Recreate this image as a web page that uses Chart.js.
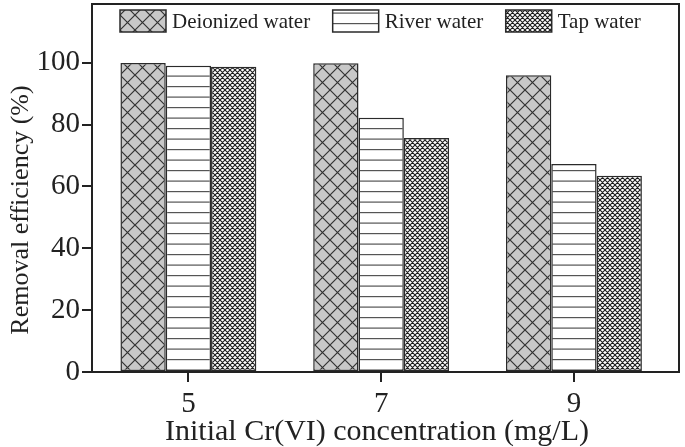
<!DOCTYPE html>
<html>
<head>
<meta charset="utf-8">
<script src="https://cdn.jsdelivr.net/npm/chart.js@4.4.1/dist/chart.umd.min.js"></script>
<style>
  html, body { margin: 0; padding: 0; background: #fff; }
</style>
</head>
<body>
<canvas id="chart" width="685" height="447"></canvas>
<script>
// data
const concentrations = [5, 7, 9];
const deionized = [99.9, 99.8, 96.0];
const river = [99.0, 82.2, 67.3];
const tap = [98.7, 75.7, 63.5];
const seriesNames = ['Deionized water', 'River water', 'Tap water'];
const yTicks = [0, 20, 40, 60, 80, 100];

const SERIF = "'Liberation Serif', 'Times New Roman', serif";
const INK = '#222';

const canvas = document.getElementById('chart');
const ctx = canvas.getContext('2d');

// fill patterns
function makePattern(w, h, bg, draw) {
    const c = document.createElement('canvas');
    c.width = w; c.height = h;
    const g = c.getContext('2d');
    g.fillStyle = bg;
    g.fillRect(0, 0, w, h);
    draw(g, w, h);
    return ctx.createPattern(c, 'repeat');
}

function crossHatch(color, lw) {
    return (g, s) => {
        g.strokeStyle = color;
        g.lineWidth = lw;
        g.beginPath();
        for (const o of [-s, 0, s]) {
            g.moveTo(o - 1, -1); g.lineTo(o + s + 1, s + 1);
            g.moveTo(o + s + 1, -1); g.lineTo(o - 1, s + 1);
        }
        g.stroke();
    };
}

const diamondFill = makePattern(15, 15, '#c8c8c8', crossHatch('#333', 1.2));
const fineFill = makePattern(5, 5, '#fff', crossHatch('#1c1c1c', 1.1));
const stripeFill = makePattern(10, 21, '#fff', (g, w) => {
    g.fillStyle = '#555';
    g.fillRect(0, 2, w, 1.2);
    g.fillRect(0, 12.5, w, 1.2);
});

const toPoints = vals => concentrations.map((c, i) => ({ x: c, y: vals[i] }));

// frame around the plot area
const framePlugin = {
    id: 'frame',
    afterDraw(chart) {
        const a = chart.chartArea;
        const c = chart.ctx;
        c.save();
        c.strokeStyle = INK;
        c.lineWidth = 2;
        c.strokeRect(a.left, a.top, a.right - a.left, a.bottom - a.top);
        c.restore();
    }
};

// legend in one row along the top of the plot area
const legendPlugin = {
    id: 'insideLegend',
    afterDatasetsDraw(chart) {
        const a = chart.chartArea;
        const c = chart.ctx;
        const boxW = 46, boxH = 22, gap = 6, itemGap = 22.5;
        c.save();
        c.font = '21px ' + SERIF;
        c.textBaseline = 'middle';
        let x = a.left + 28;
        const top = a.top + 6;
        chart.data.datasets.forEach(ds => {
            c.fillStyle = ds.backgroundColor;
            c.fillRect(x, top, boxW, boxH);
            c.strokeStyle = ds.borderColor;
            c.lineWidth = ds.borderWidth;
            c.strokeRect(x, top, boxW, boxH);
            c.fillStyle = INK;
            c.fillText(ds.label, x + boxW + gap, top + boxH / 2 + 1);
            x += boxW + gap + c.measureText(ds.label).width + itemGap;
        });
        c.restore();
    }
};

// axis titles
const titlePlugin = {
    id: 'axisTitles',
    afterDraw(chart) {
        const c = chart.ctx;
        c.save();
        c.fillStyle = INK;
        c.textAlign = 'center';
        c.font = '30px ' + SERIF;
        c.textBaseline = 'alphabetic';
        c.fillText('Initial Cr(VI) concentration (mg/L)', 377, 440);
        c.translate(21, 210);
        c.rotate(-Math.PI / 2);
        c.font = '26px ' + SERIF;
        c.textBaseline = 'middle';
        c.fillText('Removal efficiency (%)', 0, 0);
        c.restore();
    }
};

const barStyle = { borderColor: '#2a2a2a', borderWidth: 1.5, borderSkipped: false };

new Chart(ctx, {
    type: 'bar',
    data: {
        datasets: [
            { label: seriesNames[0], data: toPoints(deionized), backgroundColor: diamondFill, ...barStyle },
            { label: seriesNames[1], data: toPoints(river), backgroundColor: stripeFill, ...barStyle },
            { label: seriesNames[2], data: toPoints(tap), backgroundColor: fineFill, ...barStyle }
        ]
    },
    options: {
        responsive: false,
        animation: false,
        devicePixelRatio: 1,
        categoryPercentage: 0.705,
        barPercentage: 1,
        layout: { padding: { top: 4, right: 6, left: 0, bottom: 0 } },
        plugins: {
            tooltip: { enabled: false },
            legend: { display: false }
        },
        scales: {
            x: {
                type: 'linear',
                min: 4,
                max: 10.09,
                offset: false,
                afterFit: s => { s.height = 75; s.paddingLeft = 0; s.paddingRight = 0; },
                afterBuildTicks: s => { s.ticks = concentrations.map(v => ({ value: v })); },
                grid: { display: true, offset: false, drawOnChartArea: false, drawTicks: true, tickLength: 10, color: INK, lineWidth: 2 },
                border: { display: true, color: INK, width: 2 },
                ticks: { color: INK, padding: 5, font: { family: SERIF, size: 29 } }
            },
            y: {
                min: 0,
                max: 119,
                afterFit: s => { s.width = 92; s.paddingTop = 0; s.paddingBottom = 0; },
                afterBuildTicks: s => { s.ticks = yTicks.map(v => ({ value: v })); },
                grid: { display: true, drawOnChartArea: false, drawTicks: true, tickLength: 10, color: INK, lineWidth: 2 },
                border: { display: true, color: INK, width: 2 },
                ticks: { color: INK, padding: 2, font: { family: SERIF, size: 29 } }
            }
        }
    },
    plugins: [framePlugin, legendPlugin, titlePlugin]
});
</script>
</body>
</html>
